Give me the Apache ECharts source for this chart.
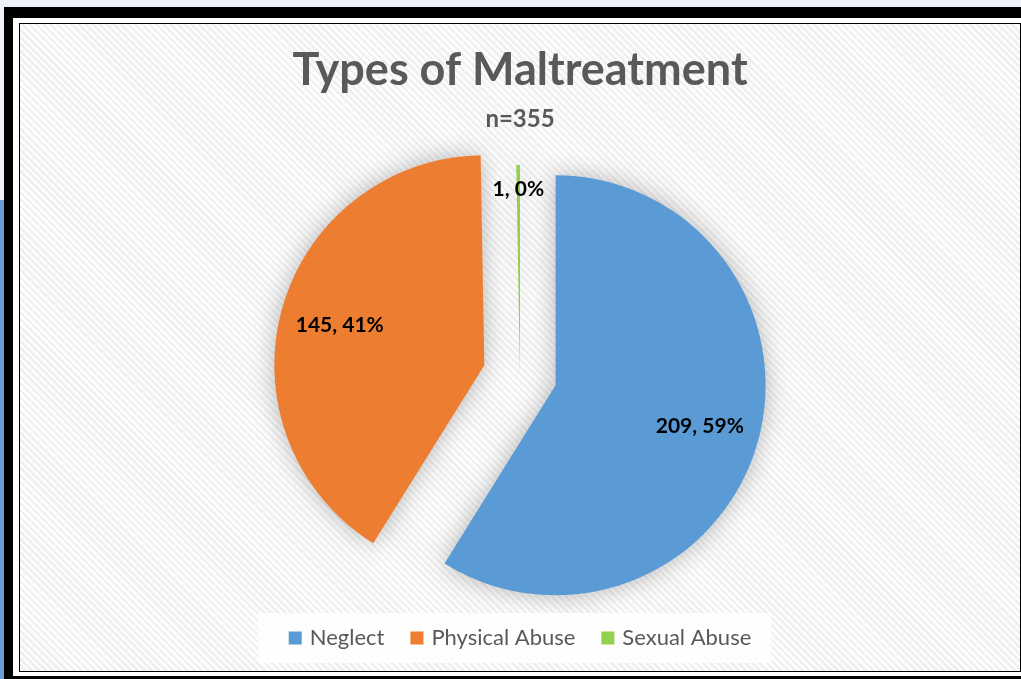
<!DOCTYPE html>
<html><head><meta charset="utf-8">
<script src="https://cdn.jsdelivr.net/npm/echarts@6/dist/echarts.min.js"></script>
<style>
html,body{margin:0;padding:0;width:1021px;height:679px;overflow:hidden;background:#eef2f9;}
#frame{position:absolute;left:4px;top:7px;width:1017px;height:672px;background:#000;}
#inner{position:absolute;left:13px;top:18px;width:1008px;height:658px;background:#fff;}
#strip{position:absolute;left:0;top:200px;width:4px;height:479px;background:#6a9fd8;}
#chart{position:absolute;left:19px;top:23px;width:1000px;height:647px;border:1px solid #000;
background:repeating-linear-gradient(45deg,#fdfdfd 0px,#fdfdfd 2.5px,#f0f0f0 2.5px,#f0f0f0 5px);}
</style></head>
<body>
<div id="frame"></div><div id="inner"></div><div id="strip"></div>
<div id="chart"></div>
<script>
const titleText = 'Types of Maltreatment';
const subtitleText = 'n=355';
const categories = ['Neglect', 'Physical Abuse', 'Sexual Abuse'];
const counts = [209, 145, 1];
const exploded = [true, true, false];
const colors = ['#5B9BD5', '#ED7D31', '#92D050'];

const chart = echarts.init(document.getElementById('chart'), null, {renderer: 'canvas'});
const center = [500, 351];
const R = 210;
const labelFont = {fontFamily: 'Lato', fontWeight: 'bold', fontSize: 21, color: '#000'};

function pieData(showLabel) {
  return categories.map((n, i) => ({
    name: n, value: counts[i], selected: exploded[i],
    itemStyle: {color: colors[i]},
    label: {show: showLabel(i)}
  }));
}

const base = {
  type: 'pie', center: center, startAngle: 90, clockwise: true,
  selectedMode: 'multiple', selectedOffset: 37, animation: false,
  percentPrecision: 0, labelLine: {show: false}, silent: true,
  select: {itemStyle: {borderWidth: 0}}
};

chart.setOption({
  animation: false,
  title: [
    {text: titleText, left: 'center', top: 19,
     textStyle: {fontFamily: 'Lato', fontWeight: 'bold', fontSize: 45, color: '#595959'}},
    {text: subtitleText, left: 'center', top: 78,
     textStyle: {fontFamily: 'Lato', fontWeight: 'bold', fontSize: 24, color: '#595959'}}
  ],
  legend: {
    data: categories, left: 'center', top: 589, icon: 'rect',
    itemWidth: 13, itemHeight: 13, itemGap: 26, selectedMode: false,
    backgroundColor: 'rgba(255,255,255,0.85)', padding: [14, 20, 14, 31],
    textStyle: {fontFamily: 'Lato', fontSize: 22, color: '#595959', padding: [0, 0, 0, 3]}
  },
  series: [
    Object.assign({}, base, {
      name: 'main', radius: [0, R], data: pieData(() => false),
      label: {show: false},
      itemStyle: {shadowBlur: 25, shadowColor: 'rgba(0,0,0,0.28)', borderWidth: 0}
    }),
    Object.assign({}, base, {
      name: 'lab1', radius: [84, R],
      data: pieData(i => i < 2).map(d => Object.assign(d, {itemStyle: {color: 'rgba(0,0,0,0)'}})),
      label: Object.assign({position: 'inside', formatter: '{c}, {d}%'}, labelFont),
      itemStyle: {color: 'rgba(0,0,0,0)'}
    }),
    Object.assign({}, base, {
      name: 'lab2', radius: [155, R],
      data: pieData(i => i === 2).map(d => Object.assign(d, {itemStyle: {color: 'rgba(0,0,0,0)'}})),
      label: Object.assign({position: 'inside', formatter: '{c}, {d}%'}, labelFont),
      itemStyle: {color: 'rgba(0,0,0,0)'}
    })
  ]
});
</script>
</body></html>
